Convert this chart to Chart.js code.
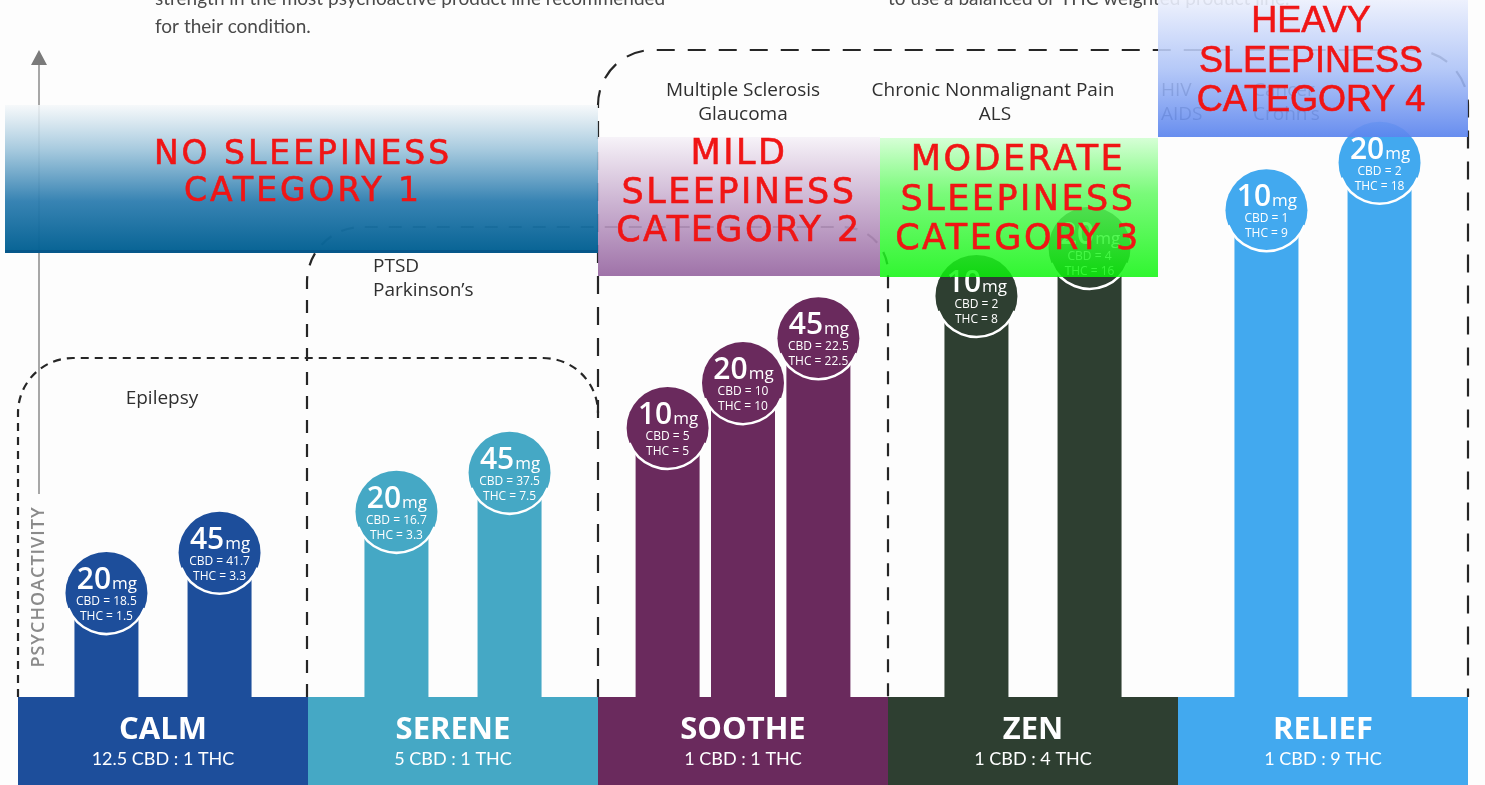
<!DOCTYPE html>
<html>
<head>
<meta charset="utf-8">
<script src="https://cdn.jsdelivr.net/npm/chart.js@4.4.1/dist/chart.umd.min.js"></script>
<style>
html, body { margin: 0; padding: 0; background: #fff; }
#wrap { width: 1485px; height: 785px; }
</style>
</head>
<body>
<div id="wrap"><canvas id="chart" width="1485" height="785"></canvas></div>
<script>
var productLines = ['CALM', 'SERENE', 'SOOTHE', 'ZEN', 'RELIEF'];
var ratios = ['12.5 CBD : 1 THC', '5 CBD : 1 THC', '1 CBD : 1 THC', '1 CBD : 4 THC', '1 CBD : 9 THC'];
var lineColors = ['#1d4e9b', '#45a8c5', '#6a2a5d', '#2e3f31', '#42a9ef'];

// lowest strength of each line
var doseLow = [20, 20, 10, 10, 10];
var cbdLow = [18.5, 16.7, 5, 2, 1];
var thcLow = [1.5, 3.3, 5, 8, 9];
var psyLow = [16, 28.5, 41.4, 61.7, 74.9];

// second strength
var doseMid = [45, 45, 20, 20, 20];
var cbdMid = [41.7, 37.5, 10, 4, 2];
var thcMid = [3.3, 7.5, 10, 16, 18];
var psyMid = [22.2, 34.5, 48.3, 69.1, 82.2];

// third strength (only soothe has one)
var doseHigh = [null, null, 45, null, null];
var cbdHigh = [null, null, 22.5, null, null];
var thcHigh = [null, null, 22.5, null, null];
var psyHigh = [null, null, 55.2, null, null];

var RED = '#f01515';

function makeSet(psy, dose, cbd, thc) {
    return {
        data: psy,
        dose: dose,
        cbd: cbd,
        thc: thc,
        backgroundColor: lineColors,
        borderWidth: 0
    };
}

function dashedPath(ctx, pts, dash) {
    ctx.save();
    ctx.strokeStyle = '#262626';
    ctx.lineWidth = 2.2;
    ctx.setLineDash(dash);
    ctx.beginPath();
    pts(ctx);
    ctx.stroke();
    ctx.restore();
}

function gradBox(ctx, x, y, w, h, stops) {
    var g = ctx.createLinearGradient(0, y, 0, y + h);
    stops.forEach(function(s) { g.addColorStop(s[0], s[1]); });
    ctx.fillStyle = g;
    ctx.fillRect(x, y, w, h);
}

function redLines(ctx, lines, cx, ys, font, spacing) {
    ctx.save();
    ctx.fillStyle = RED;
    ctx.strokeStyle = RED;
    ctx.lineWidth = 0.6;
    ctx.font = font;
    ctx.letterSpacing = spacing;
    ctx.textAlign = 'center';
    ctx.textBaseline = 'middle';
    lines.forEach(function(t, i) {
        ctx.fillText(t, cx, ys[i]);
        ctx.strokeText(t, cx, ys[i]);
    });
    ctx.restore();
}

var backdrop = {
    id: 'backdrop',
    beforeDraw: function(chart) {
        var ctx = chart.ctx;
        ctx.save();
        ctx.fillStyle = '#fdfdfd';
        ctx.fillRect(0, 0, chart.width, chart.height);
        ctx.restore();
    },
    beforeDatasetsDraw: function(chart) {
        var ctx = chart.ctx;
        var area = chart.chartArea;
        var xs = chart.scales.x;
        var cw = (area.right - area.left) / productLines.length;
        var base = area.bottom;

        ctx.save();
        // intro text cut off at top
        ctx.fillStyle = '#4a4a4a';
        ctx.font = '19px Lato';
        ctx.textAlign = 'left';
        ctx.textBaseline = 'alphabetic';
        ctx.fillText('strength in the most psychoactive product line recommended', 155, 5);
        ctx.fillText('for their condition.', 155, 33);
        ctx.fillText('to use a balanced or THC weighted product line.', 888, 5);

        // psychoactivity arrow
        ctx.strokeStyle = '#8a8a8a';
        ctx.lineWidth = 1.5;
        ctx.beginPath();
        ctx.moveTo(39, 62);
        ctx.lineTo(39, 494);
        ctx.stroke();
        ctx.fillStyle = '#7a7a7a';
        ctx.beginPath();
        ctx.moveTo(39, 50);
        ctx.lineTo(31, 65);
        ctx.lineTo(47, 65);
        ctx.closePath();
        ctx.fill();
        ctx.save();
        ctx.translate(39, 587);
        ctx.rotate(-Math.PI / 2);
        ctx.fillStyle = '#8a8a8a';
        ctx.font = '600 18px "Open Sans"';
        ctx.letterSpacing = '1px';
        ctx.textAlign = 'center';
        ctx.textBaseline = 'middle';
        ctx.fillText('PSYCHOACTIVITY', 0, 0);
        ctx.restore();
        ctx.restore();

        // condition groupings
        dashedPath(ctx, function(c) {
            c.moveTo(18, base);
            c.lineTo(18, 358 + 55);
            c.arcTo(18, 358, 73, 358, 55);
            c.lineTo(598 - 55, 358);
            c.arcTo(598, 358, 598, 413, 55);
        }, [8, 6]);
        dashedPath(ctx, function(c) {
            c.moveTo(307, base);
            c.lineTo(307, 227 + 55);
            c.arcTo(307, 227, 362, 227, 55);
            c.lineTo(888 - 45, 227);
            c.arcTo(888, 227, 888, 272, 45);
            c.lineTo(888, base);
        }, [13, 11]);
        dashedPath(ctx, function(c) {
            c.moveTo(598, base);
            c.lineTo(598, 50 + 55);
            c.arcTo(598, 50, 653, 50, 55);
            c.lineTo(1468 - 55, 50);
            c.arcTo(1468, 50, 1468, 105, 55);
            c.lineTo(1468, base);
        }, [18, 13]);

        ctx.save();
        ctx.fillStyle = '#2f2f2f';
        ctx.font = '19px "Open Sans"';
        ctx.textBaseline = 'middle';
        ctx.textAlign = 'center';
        ctx.fillText('Epilepsy', 162, 399);
        ctx.fillText('Multiple Sclerosis', 743, 91);
        ctx.fillText('Glaucoma', 743, 115);
        ctx.fillText('Chronic Nonmalignant Pain', 993, 91);
        ctx.fillText('ALS', 995, 115);
        ctx.textAlign = 'left';
        ctx.fillText('PTSD', 373, 267);
        ctx.fillText('Parkinson\u2019s', 373, 291);
        ctx.fillText('HIV', 1161, 91);
        ctx.fillText('AIDS', 1161, 115);
        ctx.fillText('Cancer', 1253, 91);
        ctx.fillText('Crohn\u2019s', 1253, 115);
        ctx.restore();

        // product line bands
        ctx.save();
        productLines.forEach(function(name, i) {
            var cx = xs.getPixelForValue(i);
            ctx.fillStyle = lineColors[i];
            ctx.fillRect(cx - cw / 2, base, cw, chart.height - base);
            ctx.fillStyle = '#ffffff';
            ctx.textAlign = 'center';
            ctx.textBaseline = 'middle';
            ctx.font = 'bold 31px "Open Sans"';
            ctx.fillText(name, cx, base + 33);
            ctx.font = '18px Lato';
            ctx.fillText(ratios[i], cx, base + 62);
        });
        ctx.restore();
    }
};

var doseCircles = {
    id: 'doseCircles',
    afterDatasetsDraw: function(chart) {
        var ctx = chart.ctx;
        var R = 41;
        chart.data.datasets.forEach(function(ds, di) {
            var meta = chart.getDatasetMeta(di);
            meta.data.forEach(function(bar, i) {
                if (ds.data[i] == null) return;
                var x = bar.x, y = bar.y;
                ctx.save();
                ctx.fillStyle = lineColors[i];
                ctx.beginPath();
                ctx.arc(x, y, R, 0, Math.PI * 2);
                ctx.fill();
                ctx.strokeStyle = '#ffffff';
                ctx.lineWidth = 2.5;
                ctx.beginPath();
                ctx.arc(x, y, R, 0.12 * Math.PI, 0.88 * Math.PI);
                ctx.stroke();

                ctx.fillStyle = '#ffffff';
                ctx.textBaseline = 'alphabetic';
                ctx.font = '600 30px "Open Sans"';
                var big = String(ds.dose[i]);
                var w1 = ctx.measureText(big).width;
                ctx.font = '17px "Open Sans"';
                var w2 = ctx.measureText('mg').width;
                var sx = x - (w1 + w2) / 2;
                ctx.textAlign = 'left';
                ctx.font = '600 30px "Open Sans"';
                ctx.fillText(big, sx, y - 4);
                ctx.font = '17px "Open Sans"';
                ctx.fillText('mg', sx + w1 + 1, y - 4);
                ctx.textAlign = 'center';
                ctx.font = '12px "Open Sans"';
                ctx.fillText('CBD = ' + ds.cbd[i], x, y + 12);
                ctx.fillText('THC = ' + ds.thc[i], x, y + 27);
                ctx.restore();
            });
        });
    }
};

var sleepiness = {
    id: 'sleepiness',
    afterDraw: function(chart) {
        var ctx = chart.ctx;
        ctx.save();
        gradBox(ctx, 5, 105, 593, 148, [
            [0, 'rgba(245,248,250,0.85)'],
            [0.3, 'rgba(160,198,220,0.92)'],
            [0.65, 'rgba(45,125,175,0.95)'],
            [1, 'rgba(2,96,146,0.98)']
        ]);
        ctx.fillStyle = '#06578a';
        ctx.fillRect(5, 250, 593, 3);
        gradBox(ctx, 598, 137, 282, 139, [
            [0, 'rgba(246,242,248,0.93)'],
            [0.5, 'rgba(196,168,203,0.9)'],
            [1, 'rgba(152,104,162,0.93)']
        ]);
        gradBox(ctx, 880, 138, 278, 139, [
            [0, 'rgba(210,255,210,0.9)'],
            [0.4, 'rgba(100,250,100,0.86)'],
            [1, 'rgba(10,245,10,0.84)']
        ]);
        gradBox(ctx, 1158, 0, 310, 137, [
            [0, 'rgba(236,240,253,0.9)'],
            [0.5, 'rgba(172,194,247,0.88)'],
            [1, 'rgba(92,133,238,0.93)']
        ]);
        ctx.restore();

        redLines(ctx, ['NO SLEEPINESS', 'CATEGORY 1'], 303, [155, 192], '33px "DejaVu Sans"', '3px');
        redLines(ctx, ['MILD', 'SLEEPINESS', 'CATEGORY 2'], 739, [155, 194, 232], '35px "DejaVu Sans"', '2.5px');
        redLines(ctx, ['MODERATE', 'SLEEPINESS', 'CATEGORY 3'], 1018, [161, 201, 240], '35px "DejaVu Sans"', '2.5px');
        redLines(ctx, ['HEAVY', 'SLEEPINESS', 'CATEGORY 4'], 1311, [22, 62, 101], '36px "Liberation Sans"', '0px');
    }
};

new Chart(document.getElementById('chart'), {
    type: 'bar',
    data: {
        labels: productLines,
        datasets: [
            makeSet(psyLow, doseLow, cbdLow, thcLow),
            makeSet(psyMid, doseMid, cbdMid, thcMid),
            makeSet(psyHigh, doseHigh, cbdHigh, thcHigh)
        ]
    },
    options: {
        responsive: false,
        animation: false,
        devicePixelRatio: 1,
        skipNull: true,
        categoryPercentage: 0.78,
        barPercentage: 0.86,
        maxBarThickness: 64,
        layout: { padding: { left: 18, right: 17, top: 47, bottom: 88 } },
        scales: {
            x: { display: false },
            y: { display: false, min: 0, max: 100 }
        },
        plugins: {
            legend: { display: false },
            tooltip: { enabled: false }
        }
    },
    plugins: [backdrop, doseCircles, sleepiness]
});
</script>
</body>
</html>
